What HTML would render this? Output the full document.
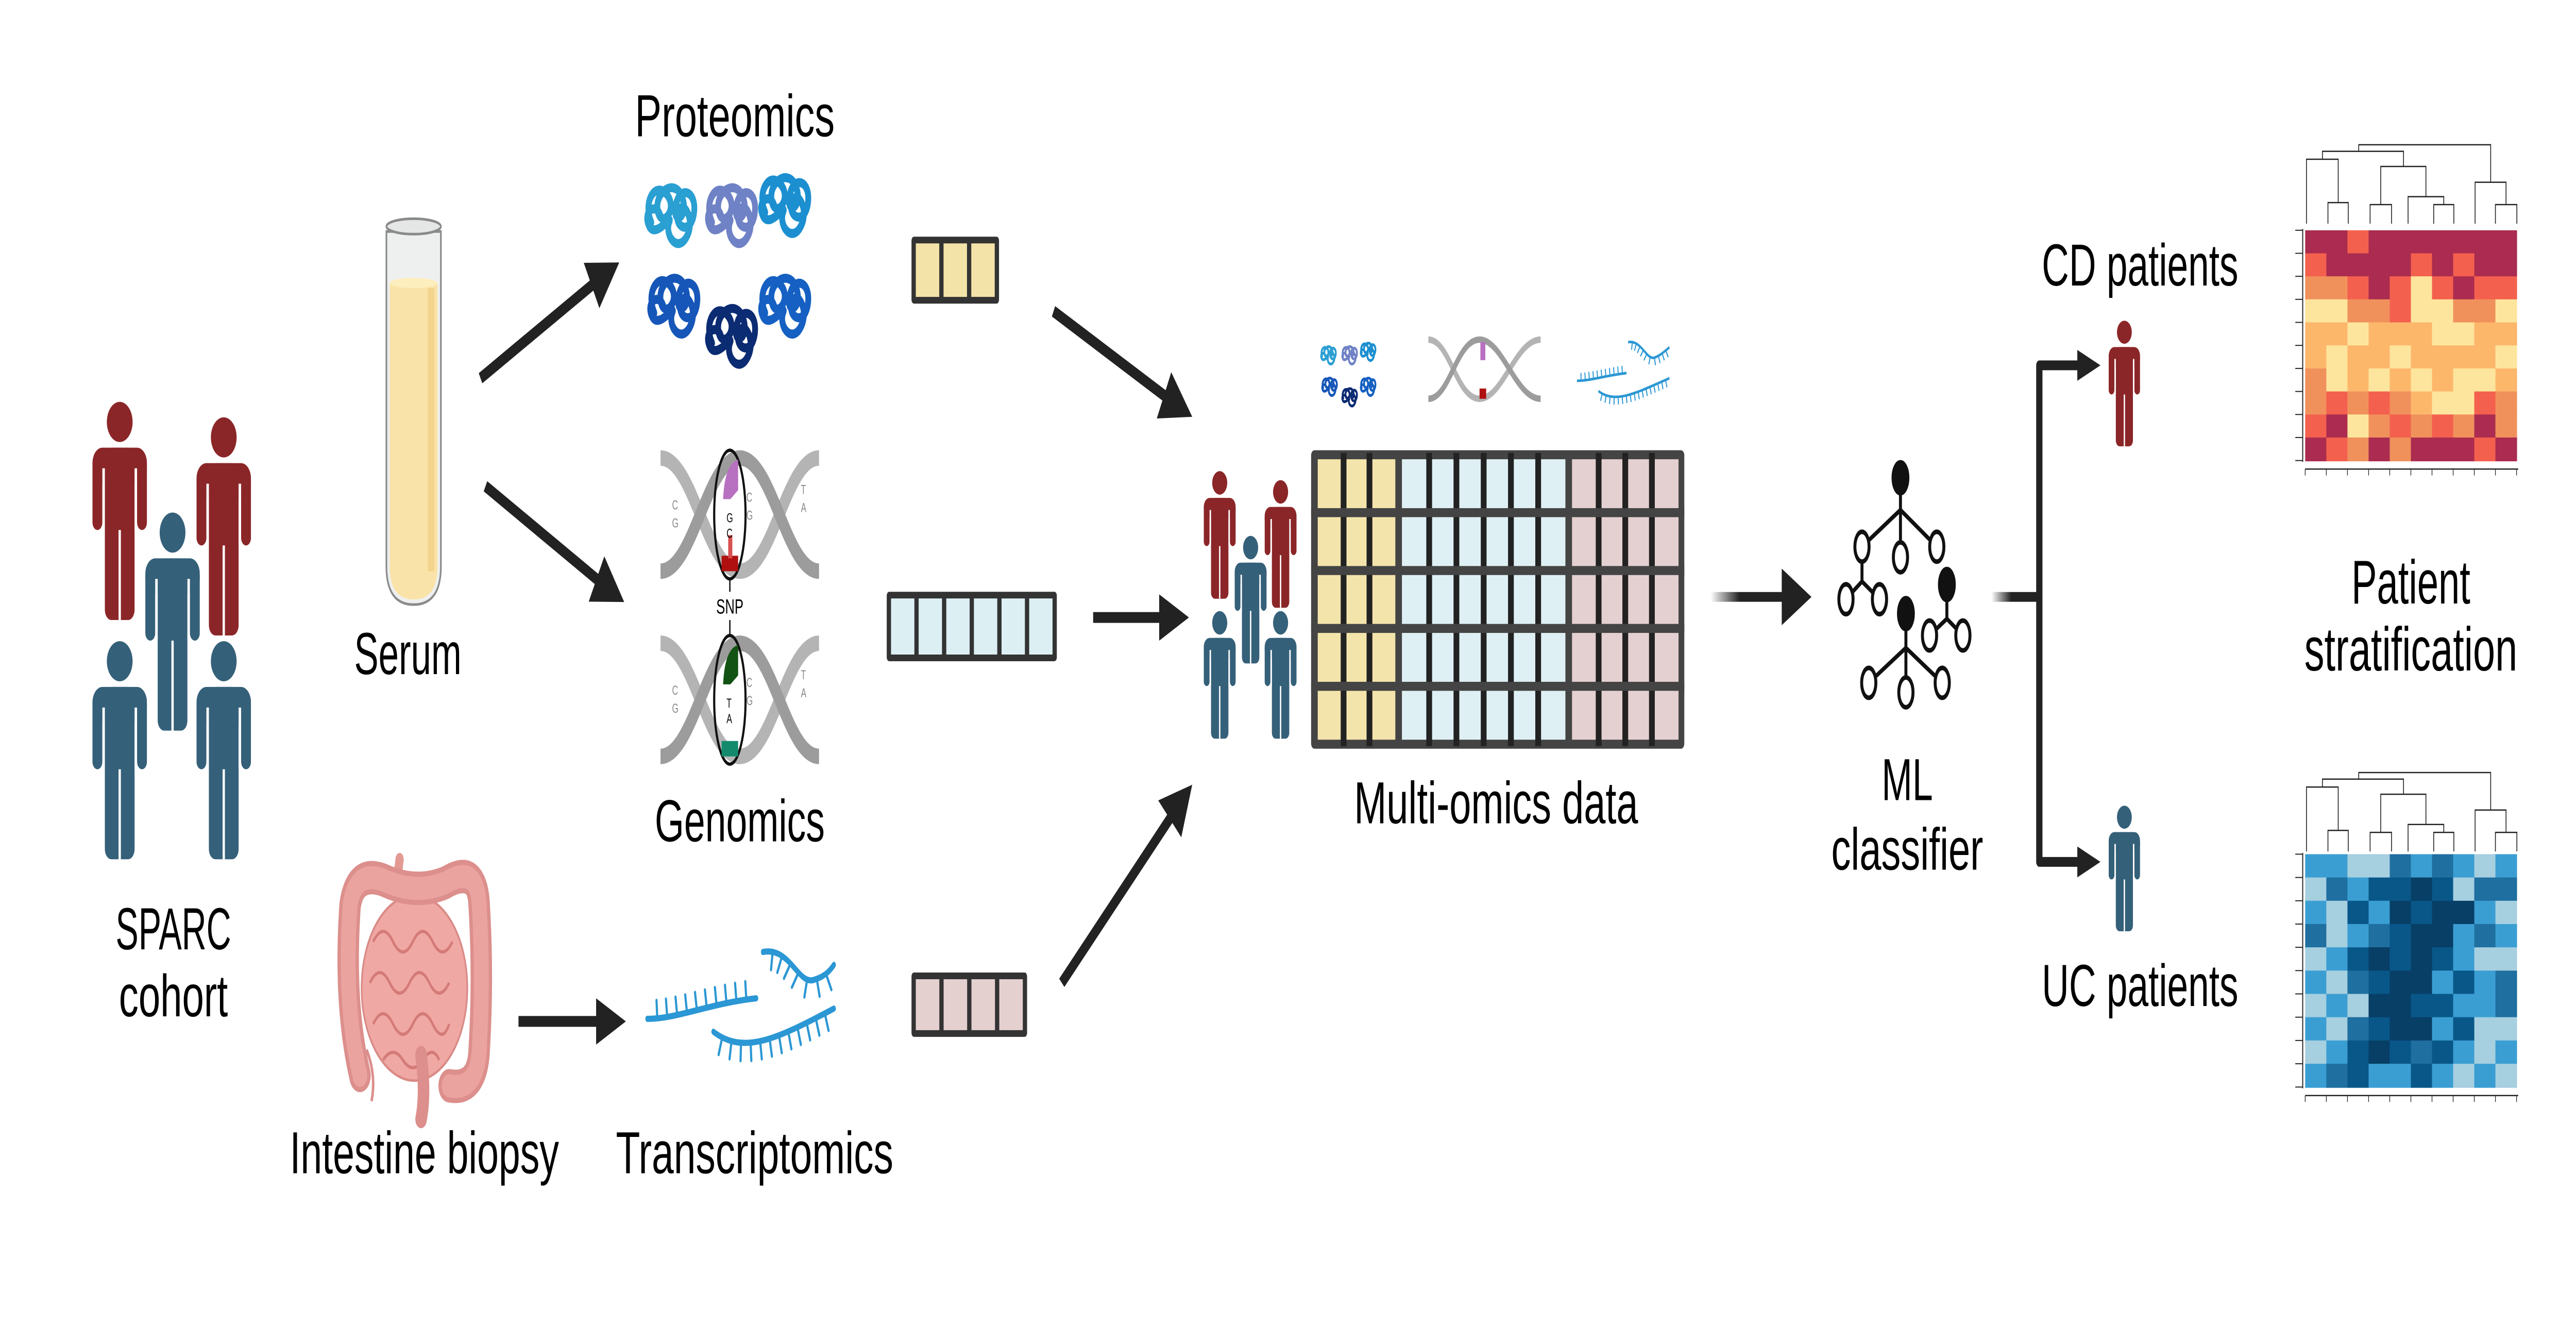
<!DOCTYPE html>
<html><head><meta charset="utf-8"><style>
html,body{margin:0;padding:0;background:#fff;width:100%;height:100%;overflow:hidden;}
svg{display:block;position:fixed;left:0;top:0;width:100vw;height:100vh}
text{font-family:"Liberation Sans",sans-serif;fill:#000}
</style></head><body>
<svg id="s" viewBox="0 0 1560 514.6" preserveAspectRatio="none" xmlns="http://www.w3.org/2000/svg">
<defs>
<symbol id="p" viewBox="0 0 33 85">
<circle cx="16.5" cy="8" r="7.8"/>
<rect x="0" y="18" width="33" height="14" rx="6"/>
<rect x="0" y="22" width="6" height="28" rx="3"/>
<rect x="27" y="22" width="6" height="28" rx="3"/>
<rect x="7.5" y="18" width="18" height="67" rx="4"/>
<rect x="6" y="26" width="1.5" height="24" fill="#fff"/>
<rect x="25.5" y="26" width="1.5" height="24" fill="#fff"/>
<rect x="15.8" y="50" width="1.4" height="35" fill="#fff"/>
</symbol>
<g id="grp">
<use href="#p" x="56" y="156" width="33" height="85" fill="#8b2628"/>
<use href="#p" x="119" y="162" width="33" height="85" fill="#8b2628"/>
<use href="#p" x="88" y="199" width="33" height="85" fill="#356079"/>
<use href="#p" x="56" y="249" width="33" height="85" fill="#356079"/>
<use href="#p" x="119" y="249" width="33" height="85" fill="#356079"/>
</g>
<linearGradient id="fade" x1="0" x2="1" y1="0" y2="0"><stop offset="0" stop-color="#222" stop-opacity="0"/><stop offset="0.4" stop-color="#222"/></linearGradient>
</defs>

<use href="#grp"/>
<g transform="translate(729,183) scale(0.585) translate(-56,-156)"><use href="#grp"/></g>
<text x="105" y="369" font-size="23" text-anchor="middle" textLength="70" lengthAdjust="spacingAndGlyphs">SPARC</text>
<text x="105" y="395" font-size="23" text-anchor="middle" textLength="66" lengthAdjust="spacingAndGlyphs">cohort</text>

<path d="M234,90 L234,220 Q234,235 250.5,235 Q267,235 267,220 L267,90 Z" fill="#eef0f0" stroke="#8a8a8a" stroke-width="1"/>
<path d="M236,110 L236,220 Q236,233 250.5,233 Q265,233 265,220 L265,110 Z" fill="#fae3a8"/>
<ellipse cx="250.5" cy="110" rx="14.5" ry="2" fill="#fdeebd"/>
<rect x="259" y="112" width="4" height="110" fill="#f3d48d"/>
<ellipse cx="250.5" cy="88" rx="16.5" ry="3" fill="#e5e7e7" stroke="#8a8a8a" stroke-width="1"/>
<text x="247" y="262" font-size="23" text-anchor="middle" textLength="65" lengthAdjust="spacingAndGlyphs">Serum</text>

<path d="M242,334 L240,345" stroke="#e49a94" stroke-width="5" stroke-linecap="round"/>
<ellipse cx="251" cy="384" rx="32" ry="36" fill="#f0a8a4" stroke="#d98a86" stroke-width="1"/>
<path d="M226,366 q6,-8 12,0 q6,8 12,0 q6,-8 12,0 q6,8 12,0 M224,382 q6,-8 12,0 q6,8 12,0 q6,-8 12,0 q6,8 12,0 M226,398 q6,-8 12,0 q6,8 12,0 q6,-8 12,0 q6,8 10,0 M232,412 q6,-6 12,0 q6,6 12,0 q6,-6 10,0" fill="none" stroke="#d47b78" stroke-width="1.3"/>
<path d="M218,418 Q208,390 212,352 Q215,338 232,342 Q252,348 270,343 Q288,336 290,350 Q293,380 290,410 Q288,424 272,422" fill="none" stroke="#dc8f8c" stroke-width="13" stroke-linecap="round"/>
<path d="M218,418 Q208,390 212,352 Q215,338 232,342 Q252,348 270,343 Q288,336 290,350 Q293,380 290,410 Q288,424 272,422" fill="none" stroke="#eba39f" stroke-width="9" stroke-dasharray="3 1.5" stroke-linecap="round"/>
<path d="M255,410 Q258,425 255,435" fill="none" stroke="#dc8f8c" stroke-width="7" stroke-linecap="round"/>
<path d="M222,408 Q228,418 225,428" fill="none" stroke="#dc8f8c" stroke-width="1.5"/>
<text x="257" y="456" font-size="23" text-anchor="middle" textLength="163" lengthAdjust="spacingAndGlyphs">Intestine biopsy</text>

<g id="prot" fill="none" stroke-width="2.6" stroke-linecap="round"></g>
<text x="445" y="53" font-size="23" text-anchor="middle" textLength="121" lengthAdjust="spacingAndGlyphs">Proteomics</text>

<g id="dna1">
<path d="M400,178 C420,178 428,222 448,222 C468,222 476,178 496,178" fill="none" stroke="#b4b4b4" stroke-width="6"/>
<path d="M400,222 C420,222 428,178 448,178 C468,178 476,222 496,222" fill="none" stroke="#9c9c9c" stroke-width="6"/>
<g font-size="5"><text x="407" y="198" style="fill:#888">C</text><text x="407" y="205" style="fill:#888">G</text><text x="452" y="195" style="fill:#888">C</text><text x="452" y="202" style="fill:#888">G</text><text x="485" y="192" style="fill:#888">T</text><text x="485" y="199" style="fill:#888">A</text></g>
</g>
<ellipse cx="442" cy="200" rx="9.5" ry="25" fill="none" stroke="#111" stroke-width="1.3"/>
<path d="M446,180 Q440,182 439,193 L442,193 L446,190 Z" fill="#b870c0" stroke="#b870c0" stroke-width="2"/>
<rect x="437" y="216" width="10" height="6" fill="#b01010"/>
<rect x="441" y="208" width="2.5" height="9" fill="#d85050"/>
<text x="440" y="203" font-size="5">G</text><text x="440" y="209" font-size="5">C</text>
<g transform="translate(0,72)"><use href="#dna1"/></g>
<ellipse cx="442" cy="272" rx="9.5" ry="25" fill="none" stroke="#111" stroke-width="1.3"/>
<path d="M446,252 Q440,254 439,265 L442,265 L446,262 Z" fill="#125212" stroke="#125212" stroke-width="2"/>
<rect x="437" y="288" width="10" height="6" fill="#138a6c"/>
<text x="440" y="275" font-size="5">T</text><text x="440" y="281" font-size="5">A</text>
<line x1="442" y1="225" x2="442" y2="230" stroke="#111" stroke-width="0.8"/>
<line x1="442" y1="241" x2="442" y2="247" stroke="#111" stroke-width="0.8"/>
<text x="442" y="238.5" font-size="8" text-anchor="middle">SNP</text>
<text x="448" y="327" font-size="23" text-anchor="middle" textLength="103" lengthAdjust="spacingAndGlyphs">Genomics</text>

<g id="rna" fill="none" stroke="#2b97d4" stroke-width="2.4" stroke-linecap="round"></g>
<text x="457" y="456" font-size="23" text-anchor="middle" textLength="168" lengthAdjust="spacingAndGlyphs">Transcriptomics</text>

<g id="bars"></g>
<g id="grid"></g>
<g id="mini"></g>
<text x="906" y="320" font-size="23" text-anchor="middle" textLength="172" lengthAdjust="spacingAndGlyphs">Multi-omics data</text>

<g id="arrows"></g>
<rect x="1036" y="230.1" width="44" height="3.8" fill="url(#fade)"/>

<g id="tree" stroke="#111" stroke-width="1.8"></g>
<text x="1155" y="311" font-size="23" text-anchor="middle" textLength="31" lengthAdjust="spacingAndGlyphs">ML</text>
<text x="1155" y="338" font-size="23" text-anchor="middle" textLength="92" lengthAdjust="spacingAndGlyphs">classifier</text>

<rect x="1206" y="230.1" width="30" height="3.8" fill="url(#fade)"/>
<path d="M1262,142 L1235,142 L1235,335 L1262,335" fill="none" stroke="#222" stroke-width="3.8" stroke-linejoin="round"/>
<path d="M1258,136 L1272,142 L1258,148 Z M1258,329 L1272,335 L1258,341 Z" fill="#222"/>
<use href="#p" x="1277" y="124" width="19" height="50" fill="#8b2628"/>
<use href="#p" x="1277" y="312" width="19" height="51" fill="#356079"/>
<text x="1296" y="111" font-size="23" text-anchor="middle" textLength="119" lengthAdjust="spacingAndGlyphs">CD patients</text>
<text x="1296" y="391" font-size="23" text-anchor="middle" textLength="119" lengthAdjust="spacingAndGlyphs">UC patients</text>

<g id="hm"></g>
<text x="1460" y="234.6" font-size="24" text-anchor="middle" textLength="72" lengthAdjust="spacingAndGlyphs">Patient</text>
<text x="1460" y="260.6" font-size="24" text-anchor="middle" textLength="129" lengthAdjust="spacingAndGlyphs">stratification</text>
</svg>
<script>
const NS="http://www.w3.org/2000/svg";
function el(p,t,a){const e=document.createElementNS(NS,t);for(const k in a)e.setAttribute(k,a[k]);p.appendChild(e);return e;}
const $=id=>document.getElementById(id);

function squig(g,cx,cy,s,c){
 const d=`M${cx-8},${cy+2} c-4,-6 2,-12 7,-8 c5,4 -2,10 -4,5 c-2,-6 8,-10 11,-4 c3,6 -5,8 -3,2 c2,-6 10,-4 8,3 c-2,6 -9,3 -7,-1 c2,-4 8,2 4,7 c-4,5 -10,0 -8,-4 c2,-3 -6,5 -9,1 c-3,-4 3,-7 5,-3`;
 el(g,'path',{d,stroke:c,transform:`translate(${cx},${cy}) scale(${s}) translate(${-cx},${-cy})`});
}
function protCluster(g,ox,oy,sc,w){
 const pos=[[0.1,0.15,'#2a9fd2'],[0.5,0.15,'#6f82c6'],[0.85,0.1,'#1c8fd0'],[0.12,0.6,'#1656b8'],[0.5,0.75,'#0b2b72'],[0.85,0.6,'#1560c2']];
 for(const [px,py,c] of pos) squig(g,ox+px*w,oy+py*w*0.85,sc,c);
}
protCluster($('prot'),396,72,1.35,92);
(function(){const g=el($('mini'),'g',{fill:'none','stroke-width':'2.6'});protCluster(g,801,134,0.42,32);})();

function rna(g,paths,tl,sw){
 for(const [d,side] of paths){
  const p=el(g,'path',{d});
  const L=p.getTotalLength();const n=Math.floor(L/(4*tl/5));
  for(let i=1;i<n;i++){const a=p.getPointAtLength(i*L/n),b=p.getPointAtLength(i*L/n+0.5);
   let dx=b.x-a.x,dy=b.y-a.y;const m=Math.hypot(dx,dy)||1;let nx=-dy/m*side,ny=dx/m*side;
   el(g,'line',{x1:a.x,y1:a.y,x2:a.x+nx*tl,y2:a.y+ny*tl,'stroke-width':sw});}
 }
}
rna($('rna'),[["M392,396 C410,396 430,390 458,388",-1],["M462,370 C478,368 483,382 492,381 C498,380 502,378 505,375",1],["M432,401 C450,410 470,404 505,392",1]],7,1.3);
(function(){const g=el($('mini'),'g',{fill:'none',stroke:'#2b97d4','stroke-width':'1'});
rna(g,[["M955,148 C963,148 972,146 985,145",-1],["M986,133 C994,132 997,140 1002,139 C1006,138 1009,136 1011,135",1],["M968,152 C978,157 990,153 1011,147",1]],3,0.6);})();
(function(){const g=el($('mini'),'g',{fill:'none','stroke-width':'2.5'});
el(g,'path',{d:"M865,132 C878,132 882,155 896,155 C910,155 918,132 933,132",stroke:'#b4b4b4'});
el(g,'path',{d:"M865,155 C878,155 882,132 896,132 C910,132 918,155 933,155",stroke:'#9c9c9c'});
el(g,'path',{d:"M898,133 L898,140",stroke:'#b870c0','stroke-width':3});
el(g,'path',{d:"M898,151 L898,155",stroke:'#b01010','stroke-width':4});
})();

function bar(x,y,w,h,n,c){const g=$('bars');el(g,'rect',{x,y,width:w,height:h,fill:'#333',rx:1.5});
 const b=2.6,cw=(w-2*b-(n-1)*b)/n;for(let i=0;i<n;i++)el(g,'rect',{x:x+b+i*(cw+b),y:y+b,width:cw,height:h-2*b,fill:c});}
bar(552,92,53,26,3,'#f3e3a8');bar(537,230,103,27,6,'#dcf0f4');bar(552,378,70,25,4,'#e5d0d0');

(function(){const g=$('grid');el(g,'rect',{x:794,y:175,width:226,height:116,fill:'#444',rx:2});
 const groups=[[798,845,3,'#f3e4ab'],[849,948,6,'#dff0f4'],[952,1016.5,4,'#e4d0d0']];
 const rb=3.5,top=178.5,bot=287.5,rh=(bot-top-4*rb)/5;
 for(const [a,b,n,c] of groups){el(g,'rect',{x:a,y:top,width:b-a,height:bot-top,fill:c});
  const cw=(b-a)/n;for(let i=1;i<n;i++)el(g,'rect',{x:a+i*cw-1.75,y:176,width:3.5,height:114,fill:'#222'});}
 for(let r=1;r<5;r++)el(g,'rect',{x:794,y:top+r*rh+(r-1)*rb,width:226,height:rb,fill:'#444'});
})();

function arrow(x1,y1,x2,y2,hl,hw,sw,noline){const g=$('arrows');const dx=x2-x1,dy=y2-y1,L=Math.hypot(dx,dy),ux=dx/L,uy=dy/L;
 const bx=x2-ux*hl,by=y2-uy*hl;if(!noline)el(g,'line',{x1,y1,x2:bx+ux,y2:by+uy,stroke:'#222','stroke-width':sw});
 el(g,'path',{d:`M${x2},${y2} L${bx-uy*hw/2},${by+ux*hw/2} L${bx+uy*hw/2},${by-ux*hw/2} Z`,fill:'#222'});}
arrow(291,147,375,102,19,20,4.5);arrow(294,189,378,234,19,20,4.5);arrow(314,397,379,397,18,18,4.2);
arrow(638,121,722,162,19,20,4.5);arrow(662,240,720,240,18,18,4.2);arrow(643,382,722,305,19,20,4.5);
arrow(1038,232,1097,232,18,22,3.8,true);

(function(){const g=$('tree');const L=(a,b,c,d)=>el(g,'line',{x1:a,y1:b,x2:c,y2:d});
 const O=(x,y)=>el(g,'ellipse',{cx:x,cy:y,rx:4.3,ry:5.8,fill:'#fff'});const B=(x,y)=>el(g,'ellipse',{cx:x,cy:y,rx:4.5,ry:6,fill:'#111'});
 L(1150.9,186,1150.9,211);L(1150.9,198.2,1127.6,212.5);L(1150.9,198.2,1172.9,212.5);
 L(1127.6,212.5,1127.6,226);L(1127.6,226,1117.9,232.9);L(1127.6,226,1138.2,232.9);
 L(1154.2,238.5,1154.2,266);L(1154.2,251.8,1131.7,265.4);L(1154.2,251.8,1176.2,265.4);
 L(1179,227,1179,240.5);L(1179,240.5,1168.5,247);L(1179,240.5,1188.7,247);
 B(1150.9,185.7);O(1127.6,212.5);O(1150.9,216.6);O(1172.9,212.5);O(1117.9,232.9);O(1138.2,232.9);
 B(1154.2,238.5);O(1131.7,265.4);O(1154.2,269.1);O(1176.2,265.4);B(1179,227.2);O(1168.5,247);O(1188.7,247);})();

(function(){const g=$('hm');
 const cd={D:'#ab2c50',R:'#f4604e',O:'#f0915c',L:'#fdb76b',Y:'#fee59d'};
 const uc={a:'#a6cfe0',b:'#3b9ed2',c:'#1f6fa0',d:'#095789',e:'#073f66'};
 const CD=["DDRDDDDDDD","RDDDDRDRDD","OORDRYRDRR","YYOORYYOOY","LLYLLLYYLL","LYLLYLLLLY","OYLYLYLYYL","OROROLYYRO","RDYORORODO","DRODODDDRD"];
 const UC=["bbaacbcbab","acbddedacc","badbedeeba","cabcdeebcb","abdededbaa","bacdeebdbc","abaeeddbbc","bacdeebdaa","abdedcdbab","bcdbbdbaba"];
 function draw(rows,pal,y0,y1){const x0=1396,x1=1524,cw=(x1-x0)/10,rh=(y1-y0)/10;
  rows.forEach((r,i)=>{for(let j=0;j<10;j++)el(g,'rect',{x:x0+j*cw,y:y0+i*rh,width:cw+0.3,height:rh+0.3,fill:pal[r[j]]});});
  el(g,'line',{x1:1394.5,y1:y0-0.5,x2:1394.5,y2:y1+0.5,stroke:'#222','stroke-width':0.6});
  for(let i=0;i<=10;i++)el(g,'line',{x1:1390,y1:y0+i*rh,x2:1394.5,y2:y0+i*rh,stroke:'#222','stroke-width':0.4});
  const by=y1+3.3;el(g,'line',{x1:x0,y1:by,x2:x1+1,y2:by,stroke:'#222','stroke-width':0.5});
  for(let i=0;i<=10;i++)el(g,'line',{x1:x0+i*cw,y1:by,x2:x0+i*cw,y2:by+2.5,stroke:'#222','stroke-width':0.4});
 }
 draw(CD,cd,89.5,179);draw(UC,uc,332,422.5);
 const X=z=>(6800+0.574*z)/4.992;
 function dendro(off){const Y=z=>(300+1.2755*(z+off))/4.992;
  const P=(d)=>el(g,'path',{d,fill:'none',stroke:'#222','stroke-width':0.5});
  const U=(a,b,ya,yb,y)=>P(`M${X(a)},${Y(ya)} L${X(a)},${Y(y)} L${X(b)},${Y(y)} L${X(b)},${Y(yb)}`);
  const lb=1060;
  U(414,521,lb,lb,1028);U(301,468,lb,1028,962);
  U(636,749,lb,lb,1031);U(971,1077,lb,lb,1031);U(836,1024,lb,1031,1019);U(692,930,1031,1019,973);
  U(385,812,962,973,950);
  U(1296,1409,lb,lb,1031);U(1189,1352,lb,1031,997);
  U(576,1271,950,997,940);
 }
 dendro(0);dendro(-955);
})();
</script>
</body></html>
